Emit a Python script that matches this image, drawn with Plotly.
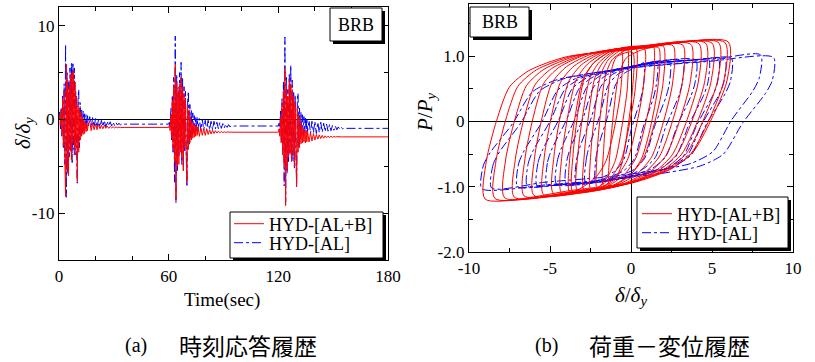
import plotly.graph_objects as go

# ---------------- data: (a) time history ----------------
event_start = [0, 60, 120]
t_strong = [0.0, 0.4, 0.8, 1.2, 1.6, 2.0, 2.4, 2.8, 3.2, 3.6, 4.0, 4.4, 4.8, 5.2, 5.6, 6.0,
            6.4, 6.8, 7.2, 7.6, 8.0, 8.4, 8.8, 9.2, 9.6, 10.0, 10.4, 10.8, 11.2, 11.6, 12.0,
            12.4, 12.8, 13.2, 13.6, 14.0, 14.4, 14.8, 15.2, 15.6, 16.0]
t_tail = [16.8, 17.6, 18.4, 19.2, 20.0, 20.8, 21.6, 22.4, 23.2, 24.0, 24.8, 25.6, 26.4,
          27.2, 28.0, 28.8, 29.6, 30.4, 31.2, 32.0, 32.8, 33.6, 34.4, 35.2, 36.0]
t_end = 180

red_strong_1 = [0, 0.5, -0.6, 1.0, -1.5, 2.2, -2.8, 3.0, -4.5, -8.2, 5.9, -5.5, 4.2, -6.0, 3.5, -3.2,
                4.8, -4.3, 5.0, -2.5, 5.3, -3.8, 4.0, -3.0, 2.5, -6.6, 1.5, -3.5, 1.2, -2.2, 0.8,
                -1.8, 0.2, -1.6, -0.1, -1.5, -0.3, -1.3, -0.4, -1.2, -0.5]
red_tail_1 = [-0.2, -1.2, -0.4, -1.1, -0.5, -1.1, -0.5, -1.0, -0.6, -1.0, -0.6, -0.95, -0.7,
              -0.95, -0.75, -0.9, -0.78, -0.9, -0.8, -0.88, -0.82, -0.87, -0.84, -0.86, -0.85]
red_strong_2 = [-0.85, -0.6, -1.2, 0.5, -2.0, 2.0, -3.2, 3.5, -4.5, 5.9, -8.6, 4.0, -5.0, 3.0, -4.8,
                3.8, -3.5, 4.5, -4.0, 3.5, -5.5, 2.8, -3.0, 2.2, -4.0, -6.7, 1.5, -3.2, 1.0, -2.5,
                0.3, -2.2, -0.2, -2.0, -0.5, -1.9, -0.6, -1.8, -0.7, -1.7, -0.8]
red_tail_2 = [-1.8, -0.9, -1.7, -1.0, -1.7, -1.0, -1.6, -1.1, -1.55, -1.15, -1.5, -1.2, -1.45,
              -1.25, -1.42, -1.3, -1.4, -1.32, -1.38, -1.34, -1.37, -1.35, -1.36, -1.36, -1.36]
red_strong_3 = [-1.36, -1.0, -1.8, 0.2, -2.5, 1.5, -3.8, 3.0, -5.0, 5.5, -9.2, 3.5, -5.5, 2.5, -4.0,
                4.3, -3.5, 3.8, -4.5, 3.2, -3.8, 2.5, -5.0, 1.8, -4.2, -7.2, 1.2, -3.5, 0.5, -3.0,
                0.0, -2.6, -0.6, -2.5, -1.0, -2.4, -1.1, -2.5, -1.2, -2.4, -1.3]
red_tail_3 = [-2.4, -1.4, -2.3, -1.5, -2.2, -1.6, -2.1, -1.65, -2.05, -1.7, -2.0, -1.75, -1.95,
              -1.78, -1.93, -1.8, -1.9, -1.82, -1.88, -1.84, -1.87, -1.85, -1.86, -1.86, -1.86]
red_final = -1.86

blue_strong_1 = [0, 0.8, -1.0, 1.3, -1.8, 2.5, -3.0, 3.8, -4.8, 8.0, -8.3, 5.0, -5.8, 4.0, -4.0,
                 5.5, -3.5, 6.0, -4.6, 6.1, -3.2, 5.5, -3.8, 3.0, -2.5, -6.8, 2.0, 3.2, -3.0, 1.8,
                 -1.8, 1.0, -1.4, 0.9, -1.0, 0.6, -0.9, 0.5, -0.8, 0.4, -0.7]
blue_tail_1 = [0.3, -0.9, 0.2, -0.8, 0.1, -0.9, 0.0, -0.8, -0.1, -0.75, -0.1, -0.8, -0.2, -0.7,
               -0.25, -0.7, -0.3, -0.65, -0.35, -0.6, -0.4, -0.6, -0.45, -0.55, -0.5]
blue_strong_2 = [-0.5, -0.3, -0.9, 1.2, -2.2, 2.6, -3.5, 4.5, -6.7, 8.9, -8.9, 4.8, -5.5, 3.5, -4.0,
                 5.0, -3.2, 6.1, -4.8, 4.5, -5.0, 3.5, -3.5, 3.0, -3.0, -7.2, 2.0, 3.0, -2.8, 1.6,
                 -2.0, 1.0, -1.6, 0.7, -1.4, 0.4, -1.3, 0.3, -1.2, 0.2, -1.1]
blue_tail_2 = [0.1, -1.2, 0.0, -1.1, -0.1, -1.2, -0.1, -1.1, -0.2, -1.1, -0.2, -1.0, -0.3, -1.0,
               -0.35, -0.95, -0.45, -0.9, -0.5, -0.85, -0.55, -0.8, -0.65, -0.75, -0.7]
blue_strong_3 = [-0.7, -0.4, -1.2, 1.0, -2.4, 2.2, -3.6, 4.0, -7.1, 8.8, -8.8, 4.5, -5.8, 3.2, -4.5,
                 4.8, -3.8, 5.8, -4.2, 4.2, -4.5, 3.0, -5.2, 2.6, -3.5, -7.0, 2.2, 2.8, -3.0, 1.2,
                 -2.2, 0.8, -1.8, 0.5, -1.6, 0.3, -1.5, 0.2, -1.4, 0.1, -1.3]
blue_tail_3 = [-0.1, -1.5, -0.2, -1.4, -0.2, -1.5, -0.3, -1.4, -0.3, -1.35, -0.4, -1.3, -0.5, -1.25,
               -0.55, -1.2, -0.65, -1.15, -0.7, -1.1, -0.8, -1.05, -0.85, -1.0, -0.95]
blue_final = -0.95

# ---------------- data: (b) hysteresis loops (delta/delta_y, P/P_y) ----------------
red_loop_d = [
    [-9, -8.93, -8.3, -7.5, -6.3, -4.0, 0, 6, 5.92, 4.9, 3.8, 2.4, 0, -3.5, -9],
    [-8.4, -8.33, -7.74, -6.98, -5.84, -3.65, 0.15, 5.8, 5.72, 4.76, 3.71, 2.38, 0.1, -3.23, -8.4],
    [-7.8, -7.74, -7.17, -6.45, -5.37, -3.3, 0.3, 5.4, 5.33, 4.41, 3.42, 2.16, 0.0, -3.15, -7.8],
    [-7.2, -7.14, -6.61, -5.93, -4.91, -2.95, 0.45, 5.0, 4.93, 4.07, 3.13, 1.94, -0.1, -3.08, -7.2],
    [-6.6, -6.54, -6.04, -5.4, -4.44, -2.6, 0.6, 4.6, 4.54, 3.72, 2.84, 1.72, -0.2, -3.0, -6.6],
    [-6.0, -5.95, -5.48, -4.88, -3.98, -2.25, 0.75, 4.2, 4.14, 3.38, 2.55, 1.5, -0.3, -2.93, -6.0],
    [-5.4, -5.35, -4.91, -4.35, -3.51, -1.9, 0.9, 3.7, 3.64, 2.93, 2.16, 1.18, -0.5, -2.95, -5.4],
    [-4.8, -4.75, -4.35, -3.83, -3.05, -1.55, 1.05, 3.2, 3.15, 2.49, 1.77, 0.86, -0.7, -2.98, -4.8],
    [-4.3, -4.26, -3.88, -3.4, -2.68, -1.3, 1.1, 2.6, 2.55, 1.94, 1.28, 0.44, -1.0, -3.1, -4.3],
    [-3.8, -3.76, -3.42, -2.98, -2.32, -1.05, 1.15, 2.0, 1.96, 1.40, 0.79, 0.02, -1.3, -3.23, -3.8],
    [-3.3, -3.27, -2.95, -2.55, -1.95, -0.8, 1.2, 1.4, 1.36, 0.85, 0.3, -0.4, -1.6, -3.3],
    [-2.9, -2.87, -2.59, -2.23, -1.69, -0.65, 0.8, 0.76, 0.31, -0.19, -0.82, -1.9, -2.9],
    [-2.5, -2.47, -2.22, -1.9, -1.42, -0.5, 0.3, 0.27, -0.14, -0.58, -1.14, -2.1, -2.5],
    [-2.1, -2.08, -1.86, -1.58, -1.16, -0.35, -0.2, -0.23, -0.59, -0.97, -1.46, -2.1],
    [-1.7, -1.68, -1.49, -1.25, -0.89, 0.1, 0.08, -0.23, -0.56, -0.98, -1.7],
    [-3.6, -3.57, -3.28, -2.9, -2.3, -1.2, -0.6, -0.63, -1.05, -1.55, -2.2, -3.6],
    [-1.3, -1.28, -1.05, -0.75, -0.3, 0.7, 1.7, 1.66, 1.2, 0.65, -0.05, -1.3],
]
red_loop_p = [
    [-1.19, -0.61, 0.01, 0.53, 0.78, 0.99, 1.10, 1.22, 0.62, 0.0, -0.48, -0.73, -0.93, -1.05, -1.19],
    [-1.18, -0.60, 0.02, 0.54, 0.79, 1.0, 1.11, 1.21, 0.61, -0.01, -0.49, -0.74, -0.94, -1.06, -1.18],
    [-1.17, -0.59, 0.03, 0.55, 0.80, 1.01, 1.12, 1.21, 0.61, -0.01, -0.49, -0.74, -0.94, -1.06, -1.17],
    [-1.16, -0.58, 0.04, 0.56, 0.81, 1.02, 1.13, 1.20, 0.60, -0.02, -0.50, -0.75, -0.95, -1.07, -1.16],
    [-1.14, -0.56, 0.06, 0.58, 0.83, 1.04, 1.15, 1.20, 0.60, -0.02, -0.50, -0.75, -0.95, -1.07, -1.14],
    [-1.13, -0.55, 0.07, 0.59, 0.84, 1.05, 1.16, 1.19, 0.59, -0.03, -0.51, -0.76, -0.96, -1.08, -1.13],
    [-1.12, -0.54, 0.08, 0.60, 0.85, 1.06, 1.16, 1.18, 0.58, -0.04, -0.52, -0.77, -0.97, -1.09, -1.12],
    [-1.10, -0.52, 0.10, 0.62, 0.87, 1.08, 1.16, 1.17, 0.57, -0.05, -0.53, -0.78, -0.98, -1.09, -1.10],
    [-1.09, -0.51, 0.11, 0.63, 0.88, 1.09, 1.15, 1.16, 0.56, -0.06, -0.54, -0.79, -0.99, -1.08, -1.09],
    [-1.08, -0.50, 0.12, 0.64, 0.89, 1.10, 1.14, 1.15, 0.55, -0.07, -0.55, -0.80, -1.0, -1.07, -1.08],
    [-1.06, -0.48, 0.14, 0.66, 0.91, 1.11, 1.13, 1.14, 0.54, -0.08, -0.56, -0.81, -1.01, -1.06],
    [-1.05, -0.47, 0.15, 0.67, 0.92, 1.12, 1.13, 0.53, -0.09, -0.57, -0.82, -1.02, -1.05],
    [-1.03, -0.45, 0.17, 0.69, 0.94, 1.11, 1.12, 0.52, -0.10, -0.58, -0.83, -1.02, -1.03],
    [-1.02, -0.44, 0.18, 0.70, 0.95, 1.09, 1.10, 0.50, -0.12, -0.60, -0.85, -1.02],
    [-0.98, -0.40, 0.22, 0.74, 0.99, 1.06, 0.46, -0.16, -0.64, -0.89, -0.98],
    [-1.07, -0.49, 0.13, 0.65, 0.90, 1.08, 1.09, 0.49, -0.13, -0.61, -0.86, -1.07],
    [-1.0, -0.42, 0.20, 0.72, 0.97, 1.10, 1.13, 0.53, -0.09, -0.57, -0.82, -1.0],
]
blue_loop_d = [
    [-9.2, -9.12, -8.7, -7.3, -6.1, -4.7, -2.7, 0.8, 4.8, 8.8, 8.72, 8.3, 6.9, 5.7, 4.3, 2.3, -1.2, -5.2, -9.2],
    [-8.6, -8.52, -8.13, -6.8, -5.66, -4.33, -2.43, 0.9, 4.7, 8.0, 7.92, 7.53, 6.2, 5.06, 3.73, 1.83, -1.5, -5.3, -8.6],
    [-7.0, -6.94, -6.6, -5.48, -4.52, -3.4, -1.8, 1.0, 4.2, 6.2, 6.14, 5.8, 4.68, 3.72, 2.6, 1.0, -1.8, -5.0, -7.0],
    [-6.4, -6.34, -6.03, -4.98, -4.08, -3.03, -1.53, 1.1, 4.1, 5.8, 5.74, 5.43, 4.38, 3.48, 2.43, 0.93, -1.7, -4.7, -6.4],
    [-5.8, -5.74, -5.45, -4.47, -3.63, -2.65, -1.25, 1.2, 4.0, 5.4, 5.34, 5.05, 4.07, 3.23, 2.25, 0.85, -1.6, -4.4, -5.8],
    [-5.2, -5.15, -4.88, -3.97, -3.19, -2.28, -0.98, 1.3, 3.9, 4.8, 4.75, 4.48, 3.57, 2.79, 1.88, 0.58, -1.7, -4.3, -5.2],
    [-4.6, -4.55, -4.3, -3.46, -2.74, -1.9, -0.7, 1.4, 4.0, 3.95, 3.7, 2.86, 2.14, 1.3, 0.1, -2.0, -4.6],
    [-4.0, -3.96, -3.73, -2.96, -2.3, -1.53, -0.43, 1.5, 3.2, 3.16, 2.93, 2.16, 1.5, 0.73, -0.38, -2.3, -4.0],
    [-3.4, -3.36, -3.15, -2.45, -1.85, -1.15, -0.15, 1.6, 2.4, 2.36, 2.15, 1.45, 0.85, 0.15, -0.85, -2.6, -3.4],
    [-2.8, -2.76, -2.58, -1.95, -1.41, -0.78, 0.13, 1.6, 1.56, 1.38, 0.75, 0.21, -0.43, -1.33, -2.8],
    [-2.2, -2.17, -2.0, -1.44, -0.96, -0.4, 0.4, 0.8, 0.77, 0.6, 0.04, -0.44, -1.0, -1.8, -2.2],
]
blue_loop_p = [
    [-1.03, -0.68, -0.48, -0.03, 0.45, 0.63, 0.73, 0.84, 0.92, 0.98, 0.63, 0.43, -0.02, -0.50, -0.68, -0.78, -0.89, -0.97, -1.03],
    [-1.02, -0.67, -0.47, -0.02, 0.46, 0.64, 0.74, 0.85, 0.93, 1.02, 0.67, 0.47, 0.02, -0.46, -0.64, -0.74, -0.85, -0.93, -1.02],
    [-1.0, -0.65, -0.45, 0.0, 0.48, 0.66, 0.76, 0.87, 0.95, 0.97, 0.62, 0.42, -0.03, -0.51, -0.69, -0.79, -0.90, -0.98, -1.0],
    [-0.99, -0.64, -0.44, 0.01, 0.49, 0.67, 0.77, 0.88, 0.95, 0.96, 0.61, 0.41, -0.04, -0.52, -0.70, -0.80, -0.91, -0.98, -0.99],
    [-0.98, -0.63, -0.43, 0.02, 0.50, 0.68, 0.78, 0.89, 0.94, 0.95, 0.60, 0.40, -0.05, -0.53, -0.71, -0.81, -0.92, -0.97, -0.98],
    [-0.97, -0.62, -0.42, 0.03, 0.51, 0.69, 0.79, 0.90, 0.94, 0.95, 0.60, 0.40, -0.05, -0.53, -0.71, -0.81, -0.92, -0.96, -0.97],
    [-0.96, -0.61, -0.41, 0.04, 0.52, 0.70, 0.80, 0.91, 0.94, 0.59, 0.39, -0.06, -0.54, -0.72, -0.82, -0.93, -0.96],
    [-0.95, -0.60, -0.40, 0.05, 0.53, 0.71, 0.81, 0.92, 0.93, 0.58, 0.38, -0.07, -0.55, -0.73, -0.83, -0.94, -0.95],
    [-0.94, -0.59, -0.39, 0.06, 0.54, 0.72, 0.82, 0.91, 0.92, 0.57, 0.37, -0.08, -0.56, -0.74, -0.84, -0.93, -0.94],
    [-0.93, -0.58, -0.38, 0.07, 0.55, 0.73, 0.83, 0.91, 0.56, 0.36, -0.09, -0.57, -0.75, -0.85, -0.93],
    [-0.92, -0.57, -0.37, 0.08, 0.56, 0.74, 0.84, 0.90, 0.55, 0.35, -0.10, -0.58, -0.76, -0.86, -0.92],
]

legend_names = ["HYD-[AL+B]", "HYD-[AL]"]
th_xticks = [0, 60, 120, 180]
th_yticks = [-10, 0, 10]
hy_xticks = [-10, -5, 0, 5, 10]
hy_yticks = [-2.0, -1.0, 0, 1.0]
hy_yticklabels = ["-2.0", "-1.0", "0", "1.0"]

# ---------------- build ----------------
RED, BLUE = "#ff0000", "#0000ff"
SERIF = "Liberation Serif, DejaVu Serif, serif"
CJK = "Noto Sans CJK JP"
W, H = 815, 362


def history(strong, tail, final):
    t, y = [], []
    for t0, s, tl in zip(event_start, strong, tail):
        t += [t0 + v for v in t_strong] + [t0 + v for v in t_tail]
        y += s + tl
    t.append(t_end)
    y.append(final)
    return t, y


def loops(ds, ps):
    x, y = [], []
    for d, p in zip(ds, ps):
        x += d + [None]
        y += p + [None]
    return x, y


tb, yb = history([blue_strong_1, blue_strong_2, blue_strong_3],
                 [blue_tail_1, blue_tail_2, blue_tail_3], blue_final)
tr, yr = history([red_strong_1, red_strong_2, red_strong_3],
                 [red_tail_1, red_tail_2, red_tail_3], red_final)
hbx, hby = loops(blue_loop_d, blue_loop_p)
hrx, hry = loops(red_loop_d, red_loop_p)

fig = go.Figure()
fig.add_trace(go.Scatter(x=tb, y=yb, mode="lines", name=legend_names[1], legend="legend2",
                         line=dict(color=BLUE, width=1, dash="dashdot"), xaxis="x", yaxis="y"))
fig.add_trace(go.Scatter(x=tr, y=yr, mode="lines", name=legend_names[0], legend="legend",
                         line=dict(color=RED, width=1), xaxis="x", yaxis="y"))
fig.add_trace(go.Scatter(x=hbx, y=hby, mode="lines", name=legend_names[1], legend="legend4",
                         line=dict(color=BLUE, width=1, dash="dashdot", shape="spline", smoothing=0.7),
                         xaxis="x2", yaxis="y2"))
fig.add_trace(go.Scatter(x=hrx, y=hry, mode="lines", name=legend_names[0], legend="legend3",
                         line=dict(color=RED, width=1, shape="spline", smoothing=0.7),
                         xaxis="x2", yaxis="y2"))


def px(x):
    return x / W


def py(y):
    return 1 - y / H


axis_common = dict(showline=True, linecolor="black", linewidth=1.3, mirror="allticks",
                   ticks="inside", ticklen=6, tickwidth=1, tickcolor="black", automargin=False,
                   showgrid=False, tickfont=dict(family=SERIF, size=17, color="black"))
minor_common = dict(ticks="inside", ticklen=4, tickwidth=1, tickcolor="black", showgrid=False)

# panel rectangles (pixels)
L = dict(x0=59, x1=388, y0=7, y1=260)
R = dict(x0=469, x1=793, y0=4, y1=252)


def leg(x, y):
    return dict(x=px(x), y=py(y), xanchor="left", yanchor="middle",
                bgcolor="rgba(0,0,0,0)", borderwidth=0,
                font=dict(family=SERIF, size=18, color="black"))


fig.update_layout(
    width=W, height=H, margin=dict(l=0, r=0, t=0, b=0), autosize=False,
    paper_bgcolor="white", plot_bgcolor="white", showlegend=True,
    xaxis=dict(domain=[px(L["x0"]), px(L["x1"])], range=[0, 180], anchor="y",
               tickmode="array", tickvals=th_xticks, ticktext=[str(v) for v in th_xticks],
               zeroline=False, minor=dict(tickmode="array", tickvals=[20, 40, 80, 100, 140, 160], **minor_common),
               **axis_common),
    yaxis=dict(domain=[py(L["y1"]), py(L["y0"])], range=[-15, 12], anchor="x",
               tickmode="array", tickvals=th_yticks, ticktext=[str(v) for v in th_yticks],
               zeroline=True, zerolinecolor="black", zerolinewidth=1.3,
               minor=dict(tickmode="array", tickvals=[-5, 5], **minor_common),
               **axis_common),
    xaxis2=dict(domain=[px(R["x0"]), px(R["x1"])], range=[-10, 10], anchor="y2",
                tickmode="array", tickvals=hy_xticks, ticktext=[str(v) for v in hy_xticks],
                zeroline=True, zerolinecolor="black", zerolinewidth=1.1,
                minor=dict(tickmode="array", tickvals=[-7.5, -2.5, 2.5, 7.5], **minor_common),
                **axis_common),
    yaxis2=dict(domain=[py(R["y1"]), py(R["y0"])], range=[-2.0, 1.8], anchor="x2",
                tickmode="array", tickvals=hy_yticks, ticktext=hy_yticklabels,
                zeroline=True, zerolinecolor="black", zerolinewidth=1.1,
                minor=dict(tickmode="array", tickvals=[-1.5, -0.5, 0.5, 1.5], **minor_common),
                **axis_common),
    legend=leg(229, 224),
    legend2=leg(229, 243),
    legend3=leg(637, 214),
    legend4=leg(637, 233),
)

shapes = []


def framed_box(x0, y0, x1, y1, off=3):
    shapes.append(dict(type="rect", xref="paper", yref="paper", layer="above",
                       x0=px(x0 + off), x1=px(x1 + off), y0=py(y1 + off), y1=py(y0 + off),
                       fillcolor="black", line=dict(width=0)))
    shapes.append(dict(type="rect", xref="paper", yref="paper", layer="above",
                       x0=px(x0), x1=px(x1), y0=py(y1), y1=py(y0),
                       fillcolor="white", line=dict(color="black", width=1)))


framed_box(230, 212, 383, 258)   # legend (a)
framed_box(637, 197, 788, 248)   # legend (b)
framed_box(330, 8, 382, 41)      # BRB (a)
framed_box(470, 7, 529, 37)      # BRB (b)
fig.update_layout(shapes=shapes)

ann = []


def text(x, y, s, size, family=SERIF, angle=0):
    ann.append(dict(x=px(x), y=py(y), xref="paper", yref="paper", text=s, showarrow=False,
                    xanchor="center", yanchor="middle", textangle=angle,
                    font=dict(family=family, size=size, color="black")))


text(356, 25, "BRB", 18)
text(499.5, 22, "BRB", 18)
text(222, 300, "Time(sec)", 19)
text(631, 296, "<i>δ</i>/<i>δ</i><sub><i>y</i></sub>", 21)
text(24, 133, "<i>δ</i>/<i>δ</i><sub><i>y</i></sub>", 21, angle=-90)
text(426, 112, "<i>P</i>/<i>P</i><sub><i>y</i></sub>", 21, angle=-90)
text(136, 345, "(a)", 20)
text(248, 345, "時刻応答履歴", 23, family=CJK)
text(546, 345, "(b)", 20)
text(669, 345, "荷重－変位履歴", 23, family=CJK)
fig.update_layout(annotations=ann)

# the page's default 8px body margin would shift the 815x362 figure; remove it
fig.write_html("out.html", config={"displayModeBar": False},
               post_script="document.body.style.margin='0px';document.body.style.overflow='hidden';")
